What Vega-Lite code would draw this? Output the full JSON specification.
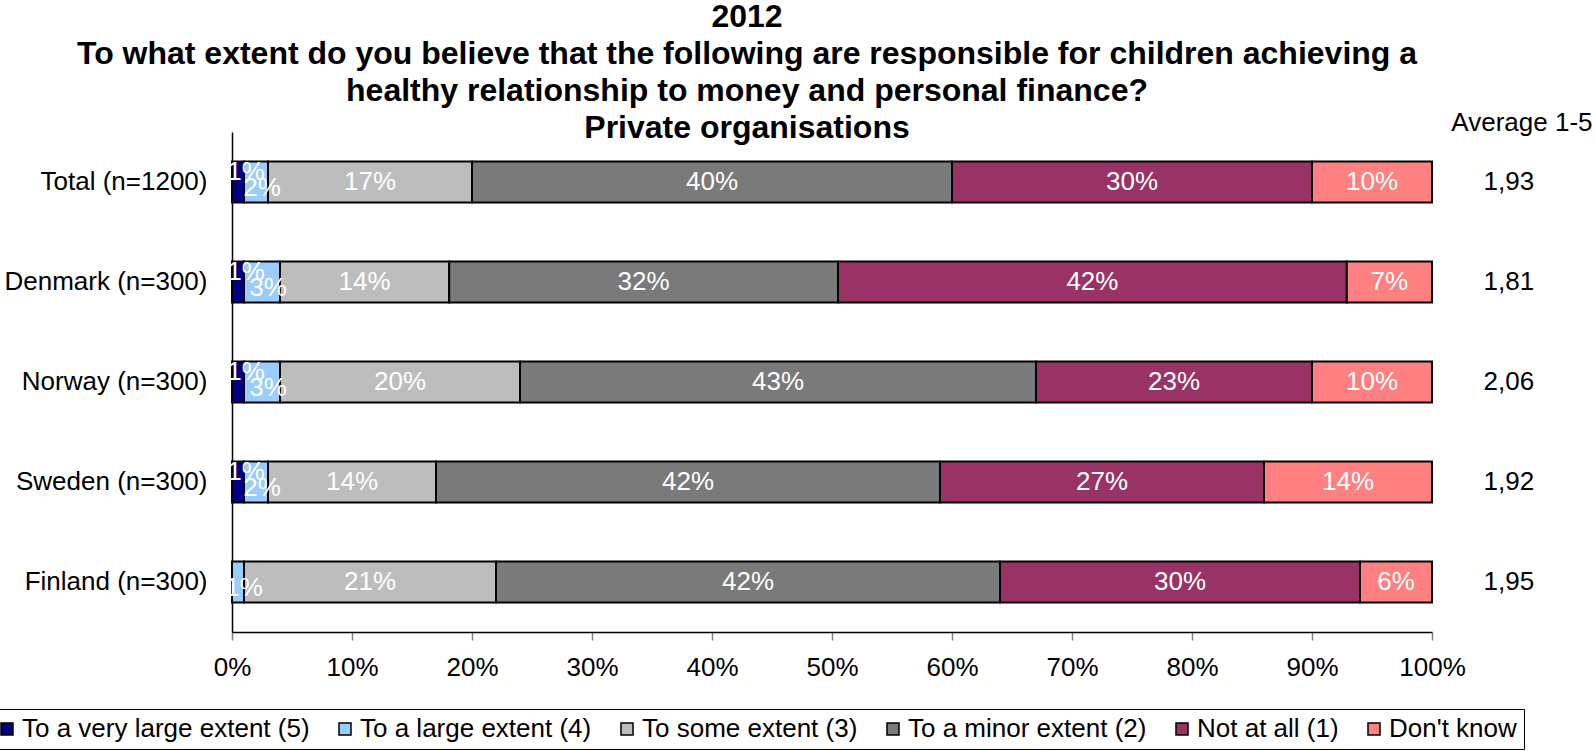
{
  "$schema": "https://vega.github.io/schema/vega-lite/v6.json",
  "width": 1200,
  "height": 500,
  "autosize": {"type": "none"},
  "padding": {"left": 232, "top": 132, "right": 163, "bottom": 119},
  "background": "white",
  "config": {
    "font": "Liberation Sans",
    "view": {"stroke": null},
    "locale": {"number": {"decimal": ",", "thousands": ".", "grouping": [3], "currency": ["", " kr"]}}
  },
  "title": {
    "text": ["2012", "To what extent do you believe that the following are responsible for children achieving a", "healthy relationship to money and personal finance?", "Private organisations"],
    "fontSize": 32,
    "fontWeight": "bold",
    "font": "Liberation Sans",
    "color": "black",
    "lineHeight": 37,
    "anchor": "middle",
    "frame": "group",
    "dx": -85,
    "offset": -36
  },
  "datasets": {
    "shares": [
      {"country": "Total (n=1200)", "category": "To a very large extent (5)", "code": 5, "value": 0.01},
      {"country": "Total (n=1200)", "category": "To a large extent (4)", "code": 4, "value": 0.02},
      {"country": "Total (n=1200)", "category": "To some extent (3)", "code": 3, "value": 0.17},
      {"country": "Total (n=1200)", "category": "To a minor extent (2)", "code": 2, "value": 0.40},
      {"country": "Total (n=1200)", "category": "Not at all (1)", "code": 1, "value": 0.30},
      {"country": "Total (n=1200)", "category": "Don't know", "code": 0, "value": 0.10},
      {"country": "Denmark (n=300)", "category": "To a very large extent (5)", "code": 5, "value": 0.01},
      {"country": "Denmark (n=300)", "category": "To a large extent (4)", "code": 4, "value": 0.03},
      {"country": "Denmark (n=300)", "category": "To some extent (3)", "code": 3, "value": 0.141},
      {"country": "Denmark (n=300)", "category": "To a minor extent (2)", "code": 2, "value": 0.324},
      {"country": "Denmark (n=300)", "category": "Not at all (1)", "code": 1, "value": 0.424},
      {"country": "Denmark (n=300)", "category": "Don't know", "code": 0, "value": 0.071},
      {"country": "Norway (n=300)", "category": "To a very large extent (5)", "code": 5, "value": 0.01},
      {"country": "Norway (n=300)", "category": "To a large extent (4)", "code": 4, "value": 0.03},
      {"country": "Norway (n=300)", "category": "To some extent (3)", "code": 3, "value": 0.20},
      {"country": "Norway (n=300)", "category": "To a minor extent (2)", "code": 2, "value": 0.43},
      {"country": "Norway (n=300)", "category": "Not at all (1)", "code": 1, "value": 0.23},
      {"country": "Norway (n=300)", "category": "Don't know", "code": 0, "value": 0.10},
      {"country": "Sweden (n=300)", "category": "To a very large extent (5)", "code": 5, "value": 0.01},
      {"country": "Sweden (n=300)", "category": "To a large extent (4)", "code": 4, "value": 0.02},
      {"country": "Sweden (n=300)", "category": "To some extent (3)", "code": 3, "value": 0.14},
      {"country": "Sweden (n=300)", "category": "To a minor extent (2)", "code": 2, "value": 0.42},
      {"country": "Sweden (n=300)", "category": "Not at all (1)", "code": 1, "value": 0.27},
      {"country": "Sweden (n=300)", "category": "Don't know", "code": 0, "value": 0.14},
      {"country": "Finland (n=300)", "category": "To a very large extent (5)", "code": 5, "value": 0.0},
      {"country": "Finland (n=300)", "category": "To a large extent (4)", "code": 4, "value": 0.01},
      {"country": "Finland (n=300)", "category": "To some extent (3)", "code": 3, "value": 0.21},
      {"country": "Finland (n=300)", "category": "To a minor extent (2)", "code": 2, "value": 0.42},
      {"country": "Finland (n=300)", "category": "Not at all (1)", "code": 1, "value": 0.30},
      {"country": "Finland (n=300)", "category": "Don't know", "code": 0, "value": 0.06}
    ],
    "averages": [
      {"country": "Total (n=1200)", "avg": 1.93},
      {"country": "Denmark (n=300)", "avg": 1.81},
      {"country": "Norway (n=300)", "avg": 2.06},
      {"country": "Sweden (n=300)", "avg": 1.92},
      {"country": "Finland (n=300)", "avg": 1.95}
    ]
  },
  "layer": [
    {
      "data": {"name": "shares"},
      "mark": {"type": "bar", "stroke": "black", "strokeWidth": 2},
      "encoding": {
        "y": {
          "field": "country", "type": "nominal",
          "sort": ["Total (n=1200)", "Denmark (n=300)", "Norway (n=300)", "Sweden (n=300)", "Finland (n=300)"],
          "scale": {"paddingInner": 0.59, "paddingOuter": 0.295},
          "axis": {"title": null, "domainColor": "black", "domainWidth": 1.5, "ticks": false, "labelFontSize": 26, "labelPadding": 25, "labelColor": "black", "labelLimit": 0, "grid": false}
        },
        "x": {
          "field": "value", "type": "quantitative", "stack": "zero",
          "scale": {"domain": [0, 1], "nice": false},
          "axis": {"title": null, "format": ".0%", "values": [0, 0.1, 0.2, 0.3, 0.4, 0.5, 0.6, 0.7, 0.8, 0.9, 1], "grid": false, "domainColor": "black", "domainWidth": 1.5, "tickColor": "#808080", "tickSize": 8, "tickWidth": 1.5, "labelFontSize": 26, "labelPadding": 14, "labelColor": "black", "labelFlush": false, "labelOverlap": false}
        },
        "order": {"field": "code", "sort": "descending"},
        "color": {
          "field": "category", "type": "nominal",
          "scale": {
            "domain": ["To a very large extent (5)", "To a large extent (4)", "To some extent (3)", "To a minor extent (2)", "Not at all (1)", "Don't know"],
            "range": ["#000080", "#99CCFF", "#BDBDBD", "#7A7A7A", "#993366", "#FF8080"]
          },
          "legend": {
            "orient": "none", "legendX": -245, "legendY": 577, "direction": "horizontal", "columns": 6,
            "title": null, "strokeColor": "black", "fillColor": "white", "padding": 7,
            "labelFontSize": 26, "labelColor": "black", "labelLimit": 0, "symbolType": "square", "symbolSize": 144,
            "symbolStrokeColor": "black", "symbolStrokeWidth": 1.5, "labelOffset": 2, "columnPadding": 22, "symbolOpacity": 1
          }
        }
      }
    },
    {
      "data": {"name": "shares"},
      "mark": {"type": "text", "color": "white", "fontSize": 26, "align": "center", "baseline": "middle"},
      "encoding": {
        "y": {"field": "country", "type": "nominal", "sort": ["Total (n=1200)", "Denmark (n=300)", "Norway (n=300)", "Sweden (n=300)", "Finland (n=300)"], "axis": null},
        "x": {"field": "value", "type": "quantitative", "stack": "zero", "bandPosition": 0.5, "axis": {"title": null}},
        "detail": {"field": "category"},
        "order": {"field": "code", "sort": "descending"},
        "text": {"condition": {"test": "datum.code <= 3", "field": "value", "type": "quantitative", "format": ".0%"}, "value": ""}
      }
    },
    {
      "data": {"name": "shares"},
      "mark": {"type": "text", "color": "white", "fontSize": 26, "align": "center", "baseline": "middle", "dy": -10, "dx": 8},
      "encoding": {
        "y": {"field": "country", "type": "nominal", "sort": ["Total (n=1200)", "Denmark (n=300)", "Norway (n=300)", "Sweden (n=300)", "Finland (n=300)"], "axis": null},
        "x": {"field": "value", "type": "quantitative", "stack": "zero", "bandPosition": 0.5, "axis": {"title": null}},
        "detail": {"field": "category"},
        "order": {"field": "code", "sort": "descending"},
        "text": {"condition": {"test": "datum.code == 5 && datum.value > 0", "field": "value", "type": "quantitative", "format": ".0%"}, "value": ""}
      }
    },
    {
      "data": {"name": "shares"},
      "mark": {"type": "text", "color": "white", "fontSize": 26, "align": "center", "baseline": "middle", "dy": 6, "dx": 6},
      "encoding": {
        "y": {"field": "country", "type": "nominal", "sort": ["Total (n=1200)", "Denmark (n=300)", "Norway (n=300)", "Sweden (n=300)", "Finland (n=300)"], "axis": null},
        "x": {"field": "value", "type": "quantitative", "stack": "zero", "bandPosition": 0.5, "axis": {"title": null}},
        "detail": {"field": "category"},
        "order": {"field": "code", "sort": "descending"},
        "text": {"condition": {"test": "datum.code == 4", "field": "value", "type": "quantitative", "format": ".0%"}, "value": ""}
      }
    },
    {
      "data": {"name": "averages"},
      "mark": {"type": "text", "color": "black", "fontSize": 26, "align": "center", "baseline": "middle"},
      "encoding": {
        "y": {
          "field": "country", "type": "nominal",
          "sort": ["Total (n=1200)", "Denmark (n=300)", "Norway (n=300)", "Sweden (n=300)", "Finland (n=300)"],
          "axis": {"orient": "right", "labels": false, "ticks": false, "domain": false, "grid": false, "title": "Average 1-5", "titleAngle": 0, "titleAlign": "right", "titleBaseline": "middle", "titleX": 160, "titleY": -10, "titleFontSize": 26, "titleFontWeight": "normal", "titleColor": "black"}
        },
        "x": {"datum": 1.064, "type": "quantitative", "axis": {"title": null}},
        "text": {"field": "avg", "type": "quantitative", "format": ".2f"}
      }
    }
  ],
  "resolve": {"axis": {"y": "independent"}}
}
